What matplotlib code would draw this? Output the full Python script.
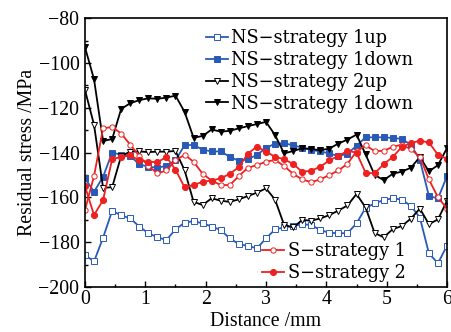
import numpy as np
import matplotlib
matplotlib.use('Agg')
import matplotlib.pyplot as plt
from matplotlib.ticker import MultipleLocator

# measurement positions (mm)
distance = [0.0, 0.15, 0.3, 0.45, 0.6, 0.75, 0.9, 1.05, 1.2, 1.35,
            1.5, 1.65, 1.8, 1.95, 2.1, 2.25, 2.4, 2.55, 2.7, 2.85,
            3.0, 3.15, 3.3, 3.45, 3.6, 3.75, 3.9, 4.05, 4.2, 4.35,
            4.5, 4.65, 4.8, 4.95, 5.1, 5.25, 5.4, 5.55, 5.7, 5.85, 6.0]

# residual stress (MPa)
ns1_up = [-185.7, -188.6, -178.0, -166.0, -168.0, -169.4, -173.0, -176.0, -177.8, -179.0,
          -174.3, -171.3, -170.6, -171.6, -173.0, -174.6, -178.3, -180.8, -181.7, -182.7,
          -178.3, -174.3, -173.4, -172.8, -172.0, -172.3, -174.6, -175.8, -176.0, -176.0,
          -171.6, -164.7, -162.7, -161.2, -160.4, -161.0, -163.8, -169.0, -185.0, -189.4, -181.5]
ns1_down = [-151.5, -157.5, -150.8, -140.0, -141.0, -141.4, -145.3, -146.3, -146.8, -145.9,
            -143.5, -136.7, -136.6, -138.7, -139.5, -139.5, -141.9, -143.7, -143.0, -141.0,
            -138.0, -136.0, -135.8, -136.8, -137.8, -138.8, -139.5, -140.4, -141.6, -140.5,
            -137.0, -133.2, -133.2, -133.2, -133.5, -133.9, -136.5, -143.3, -159.4, -160.5, -150.5]
ns2_up = [-112.1, -127.6, -155.7, -155.5, -141.5, -139.6, -139.5, -139.8, -139.6, -139.6,
          -139.3, -147.8, -162.0, -163.4, -160.4, -161.5, -162.0, -160.9, -159.4, -157.9,
          -156.0, -161.0, -172.3, -173.4, -170.1, -170.4, -169.4, -167.9, -165.9, -163.6,
          -158.5, -164.5, -175.9, -177.8, -174.2, -172.8, -169.5, -165.0, -172.0, -169.8, -161.5]
ns1_down_b = [-93.0, -107.3, -134.8, -134.0, -120.5, -118.0, -116.6, -115.8, -116.0, -115.5,
              -114.6, -121.8, -133.4, -132.6, -129.7, -130.7, -130.3, -129.2, -128.2, -127.3,
              -126.3, -132.2, -140.4, -139.3, -138.1, -138.4, -139.0, -138.2, -136.0, -134.2,
              -132.0, -140.8, -150.0, -152.3, -149.5, -148.5, -146.8, -142.0, -148.4, -145.6, -138.0]
s1 = [-165.6, -150.5, -129.2, -128.6, -131.5, -136.5, -141.5, -146.0, -149.3, -148.0,
      -143.5, -141.0, -144.1, -149.5, -152.5, -154.5, -154.5, -150.5, -146.8, -145.6,
      -144.1, -143.3, -146.0, -149.5, -152.0, -153.2, -152.0, -150.0, -148.0, -145.0,
      -139.5, -136.8, -139.3, -139.3, -137.4, -136.5, -138.5, -141.9, -152.0, -160.0, -165.0]
s2 = [-155.0, -167.9, -161.2, -143.0, -141.9, -141.3, -143.5, -144.1, -144.3, -142.0,
      -147.6, -155.5, -154.5, -153.0, -152.5, -151.5, -149.5, -146.5, -140.5, -137.3,
      -139.6, -141.9, -143.0, -145.1, -148.6, -148.1, -146.3, -143.5, -141.5, -139.3,
      -140.0, -149.0, -149.3, -145.2, -142.0, -137.5, -135.8, -134.7, -135.5, -141.0, -142.8]

blue = '#2a5ab8'
red = '#ee2020'

plt.rcParams['font.family'] = ['Liberation Serif', 'DejaVu Serif']
plt.rcParams['font.size'] = 14.3

fig = plt.figure(figsize=(4.52, 3.32), dpi=100)
ax = fig.add_axes([0.188, 0.1355, 0.801, 0.810])

lw = 1.3
ms = 3.8
l1, = ax.plot(distance, ns1_up, color=blue, lw=lw, marker='s', ms=ms, mfc='white', mec=blue, mew=0.7)
l2, = ax.plot(distance, ns1_down, color=blue, lw=lw, marker='s', ms=ms, mfc=blue, mec=blue, mew=0.7)
l3, = ax.plot(distance, ns2_up, color='black', lw=lw, marker='v', ms=ms + 0.6, mfc='white', mec='black', mew=0.7)
l4, = ax.plot(distance, ns1_down_b, color='black', lw=lw, marker='v', ms=ms + 0.6, mfc='black', mec='black', mew=0.7)
l5, = ax.plot(distance, s1, color=red, lw=lw, marker='o', ms=ms, mfc='white', mec=red, mew=0.7)
l6, = ax.plot(distance, s2, color=red, lw=lw, marker='o', ms=ms + 0.6, mfc=red, mec=red, mew=0.7)

ax.set_xlim(0, 6)
ax.set_ylim(-200, -80)
ax.xaxis.set_major_locator(MultipleLocator(1))
ax.xaxis.set_minor_locator(MultipleLocator(0.5))
ax.yaxis.set_major_locator(MultipleLocator(20))
ax.yaxis.set_minor_locator(MultipleLocator(10))
ax.tick_params(which='both', direction='in', width=1.0)
ax.tick_params(which='major', length=4.5)
ax.tick_params(which='minor', length=2.5)
ax.tick_params(axis='x', pad=2.5)
ax.tick_params(axis='y', pad=4)
for sp in ax.spines.values():
    sp.set_linewidth(1.2)

ax.set_xlabel('Distance /mm', labelpad=2)
ax.set_ylabel('Residual stress /MPa', labelpad=1)

legend_font = {'family': 'DejaVu Serif', 'size': 12.8}
leg1 = ax.legend([l1, l2, l3, l4],
                 ['NS\u2212strategy 1up', 'NS\u2212strategy 1down',
                  'NS\u2212strategy 2up', 'NS\u2212strategy 1down'],
                 loc='upper left', bbox_to_anchor=(0.333, 0.958), frameon=False,
                 prop=legend_font, handlelength=1.24, handletextpad=0.22,
                 labelspacing=0.21, borderpad=0, borderaxespad=0, numpoints=1)
ax.add_artist(leg1)
ax.legend([l5, l6], ['S\u2212strategy 1', 'S\u2212strategy 2'],
          loc='upper left', bbox_to_anchor=(0.49, 0.166), frameon=False,
          prop=legend_font, handlelength=1.24, handletextpad=0.22,
          labelspacing=0.21, borderpad=0, borderaxespad=0, numpoints=1)

fig.savefig('out.png', dpi=100)
